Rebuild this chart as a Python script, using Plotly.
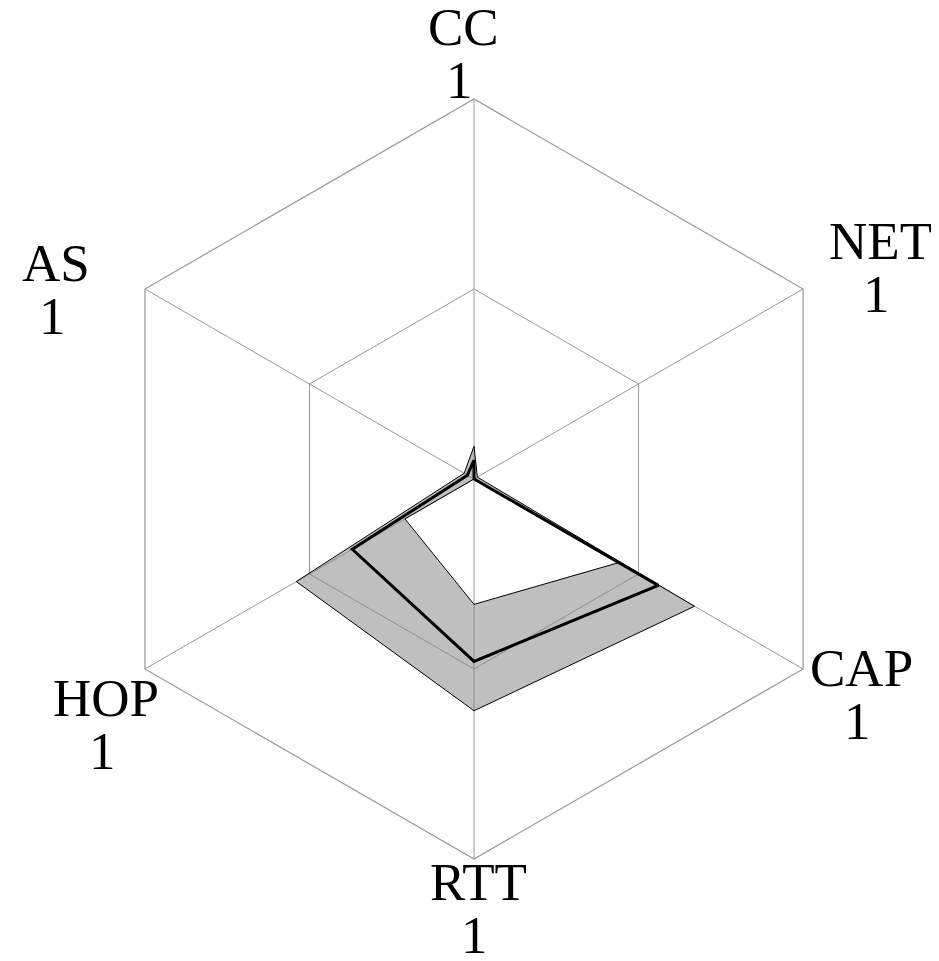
import plotly.graph_objects as go

# axes, clockwise from the top
categories = ["CC", "NET", "CAP", "RTT", "HOP", "AS"]
axis_max = [1, 1, 1, 1, 1, 1]

# spread of normalised scores per metric
band_max = [0.086, 0.01, 0.67, 0.61, 0.54, 0.03]
band_min = [0.0, 0.0, 0.44, 0.33, 0.21, 0.0]
median = [0.05, 0.0, 0.56, 0.48, 0.37, 0.02]

W, H = 939, 961
grid_color = "#999999"
label_font = dict(family="Liberation Serif", size=53, color="black")

# centre of each axis name (pixels from top-left of the figure);
# the axis maximum goes one line below it
label_pos = {
    "CC": (455, 19),
    "NET": (872, 233),
    "CAP": (853, 660),
    "RTT": (470, 874),
    "HOP": (98, 690),
    "AS": (48, 255),
}
line_gap = 53


def closed(values):
    return list(values) + [values[0]]


theta = closed(categories)

fig = go.Figure()

# lower edge of the band (no fill)
fig.add_trace(
    go.Scatterpolar(
        r=closed(band_min),
        theta=theta,
        mode="lines",
        line=dict(color="black", width=1),
        showlegend=False,
        hoverinfo="skip",
    )
)

# upper edge, filled down to the lower edge
fig.add_trace(
    go.Scatterpolar(
        r=closed(band_max),
        theta=theta,
        mode="lines",
        fill="tonext",
        fillcolor="rgba(128,128,128,0.5)",
        line=dict(color="black", width=1),
        showlegend=False,
        hoverinfo="skip",
    )
)

# median
fig.add_trace(
    go.Scatterpolar(
        r=closed(median),
        theta=theta,
        mode="lines",
        line=dict(color="black", width=3),
        showlegend=False,
        name="Median",
    )
)

# axis labels with the axis maximum underneath
for cat, m in zip(categories, axis_max):
    px, py = label_pos[cat]
    for text, x, y in [(cat, px, py), (str(m), px - 4, py + line_gap)]:
        fig.add_annotation(
            x=x / W,
            y=1 - y / H,
            xref="paper",
            yref="paper",
            text=text,
            showarrow=False,
            xanchor="center",
            yanchor="middle",
            font=label_font,
        )

fig.update_layout(
    width=W,
    height=H,
    margin=dict(l=0, r=0, t=0, b=0),
    paper_bgcolor="white",
    plot_bgcolor="white",
    showlegend=False,
    font=dict(family="Liberation Serif", color="black"),
    polar=dict(
        domain=dict(x=[0.0916, 0.901], y=[0.1145, 0.9053]),
        bgcolor="white",
        gridshape="linear",
        radialaxis=dict(
            range=[0, 1],
            tickvals=[0.5, 1],
            showticklabels=False,
            showline=False,
            ticks="",
            gridcolor=grid_color,
            gridwidth=1.2,
        ),
        angularaxis=dict(
            type="category",
            categoryorder="array",
            categoryarray=categories,
            rotation=90,
            direction="clockwise",
            showticklabels=False,
            ticks="",
            showline=True,
            linecolor=grid_color,
            linewidth=1.2,
            gridcolor=grid_color,
            gridwidth=1.2,
        ),
    ),
)

fig.write_html("out.html")
